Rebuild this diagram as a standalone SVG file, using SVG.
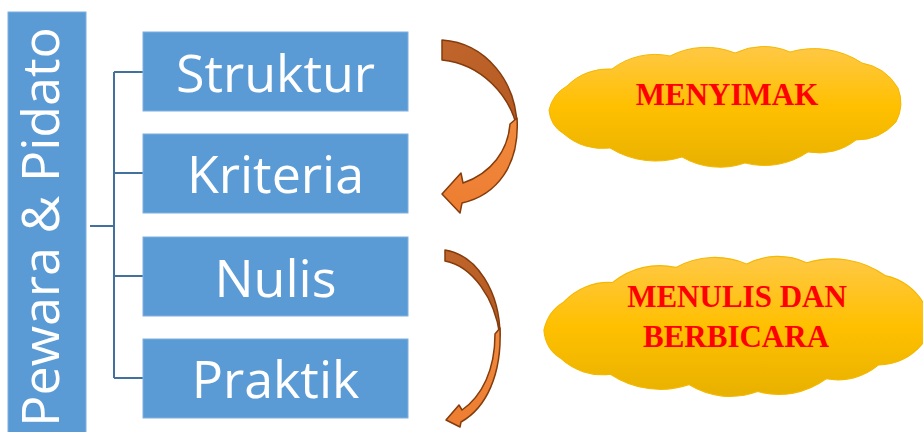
<svg xmlns="http://www.w3.org/2000/svg" width="923" height="432" viewBox="0 0 923 432">
<style>
.box{fill:#5b9bd5;stroke:#7fb0de;stroke-width:1}
.lbl{font-family:"Open Sans","Noto Sans",sans-serif;fill:#ffffff;font-size:52px;text-anchor:middle}
.conn{fill:none;stroke:#41719c;stroke-width:2}
.back{fill:url(#gBack);stroke:#843c0c;stroke-width:1.5;stroke-linejoin:round}
.front{fill:url(#gFront);stroke:#843c0c;stroke-width:1.5;stroke-linejoin:round}
.cloud{fill:url(#gCloud);stroke:#f4b800;stroke-width:1}
.ct{font-family:"Liberation Serif","Times New Roman",serif;font-weight:bold;fill:#ff0000;font-size:31px;text-anchor:middle}
</style>
<defs>
<linearGradient id="gCloud" x1="0" y1="0" x2="0" y2="1">
<stop offset="0" stop-color="#ffc846"/>
<stop offset="0.5" stop-color="#ffc000"/>
<stop offset="1" stop-color="#e8b100"/>
</linearGradient>
<linearGradient id="gBack" x1="0" y1="0" x2="1" y2="1">
<stop offset="0" stop-color="#c0652b"/>
<stop offset="1" stop-color="#b55a22"/>
</linearGradient>
<linearGradient id="gFront" x1="0" y1="0" x2="0" y2="1">
<stop offset="0" stop-color="#f08a3e"/>
<stop offset="1" stop-color="#ed7d31"/>
</linearGradient>
<path id="cloudShape" d="M549,110 A37,37 0 0 1 567,86 A58,58 0 0 1 612,69 A71,71 0 0 1 670,56 A78,78 0 0 1 735,53 A66,66 0 0 1 790,52 A87,87 0 0 1 862,63 A53,53 0 0 1 898,88 A41,41 0 0 1 896,122 A53,53 0 0 1 856,140 A60,60 0 0 1 808,152 A77,77 0 0 1 745,163 A76,76 0 0 1 682,157 A87,87 0 0 1 610,148 A58,58 0 0 1 564,134 A31,31 0 0 1 549,110 Z"/>
</defs>

<g id="root">
<rect class="box" x="8" y="12" width="78" height="425"/>
<text class="lbl" transform="translate(59,227) rotate(-90)">Pewara &amp; Pidato</text>
</g>

<g id="connectors">
<path class="conn" d="M90,226 H114 M114,72 V378 M114,72 H143 M114,173 H143 M114,276 H143 M114,378 H143"/>
</g>

<g id="struktur">
<rect class="box" x="143" y="32" width="265" height="79"/>
<text class="lbl" x="275.5" y="92">Struktur</text>
</g>
<g id="kriteria">
<rect class="box" x="143" y="134" width="265" height="79"/>
<text class="lbl" x="275.5" y="193">Kriteria</text>
</g>
<g id="nulis">
<rect class="box" x="143" y="237" width="265" height="79"/>
<text class="lbl" x="275.5" y="297">Nulis</text>
</g>
<g id="praktik">
<rect class="box" x="143" y="339" width="265" height="79"/>
<text class="lbl" x="275.5" y="398">Praktik</text>
</g>

<g id="arrow1">
<path class="back" d="M442,40 C486,43 517,82 517,128 C510,96 482,64 442,60 Z"/>
<path class="front" d="M517,118 C520,165 497,195 462,203 L460,213 L442,194 L461,173 L463,183 C492,173 508,150 510,124 Z"/>
</g>

<g id="arrow2">
<path class="back" d="M445,250 C477,255 500,292 500,336 C495,298 472,266 445,261 Z"/>
<path class="front" d="M500,328 C502,375 486,408 461,422 L460,427 L446,420 L459,405 L462,410 C482,396 495,370 495,334 Z"/>
</g>

<g id="menyimak">
<use href="#cloudShape" class="cloud"/>
<text class="ct" x="727" y="105">MENYIMAK</text>
</g>

<g id="menulis">
<use href="#cloudShape" class="cloud" transform="translate(545,257) scale(1.09,1.16) translate(-550,-47)"/>
<text class="ct" x="737" y="307">MENULIS DAN</text>
<text class="ct" x="736" y="347">BERBICARA</text>
</g>
</svg>
